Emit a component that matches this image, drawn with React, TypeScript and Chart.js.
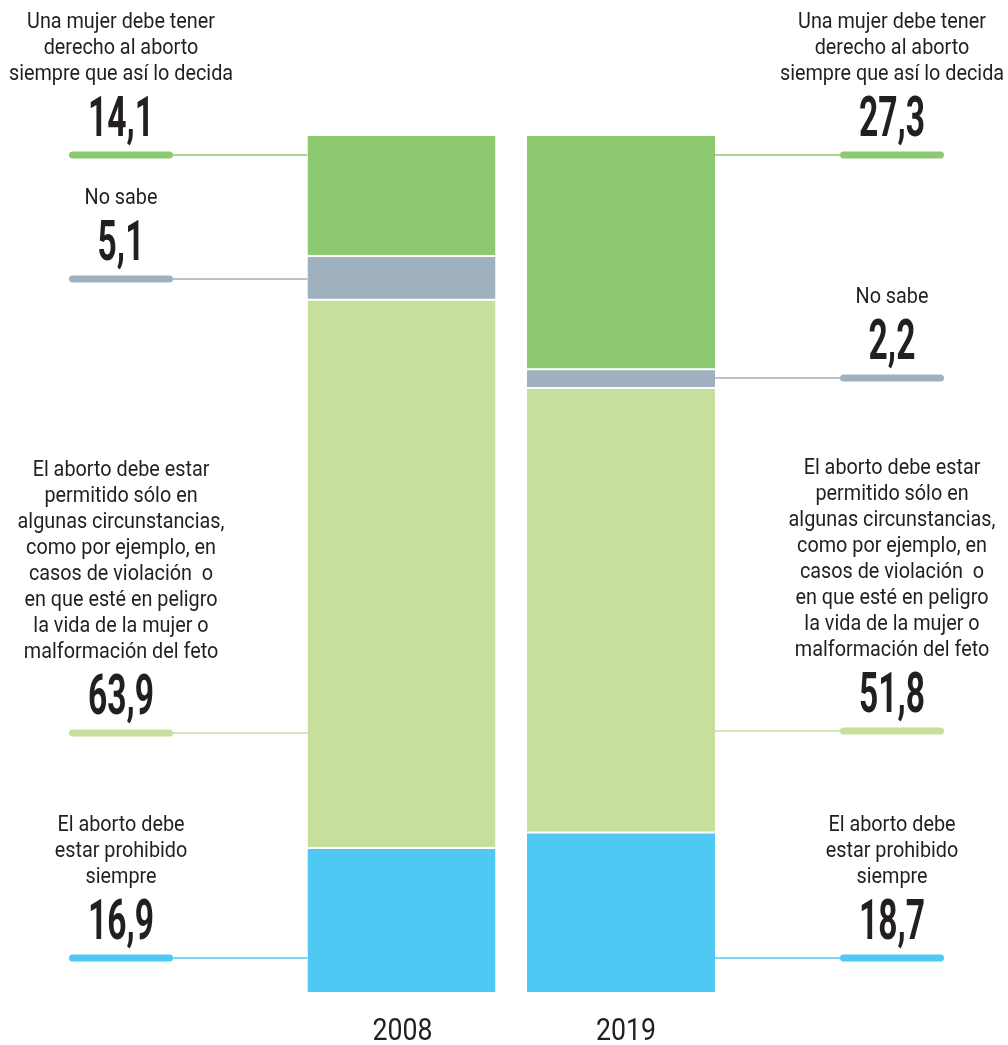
import { useEffect, useRef } from "react";
import { Chart, registerables } from "chart.js";

Chart.register(...registerables);

// ---- data ----
const years = ["2008", "2019"];
const prohibido = [16.9, 18.7];
const algunas = [63.9, 51.8];
const noSabe = [5.1, 2.2];
const derecho = [14.1, 27.3];

const prohibidoText = ["El aborto debe", "estar prohibido", "siempre"];
const algunasText = [
  "El aborto debe estar",
  "permitido sólo en",
  "algunas circunstancias,",
  "como por ejemplo, en",
  "casos de violación  o",
  "en que esté en peligro",
  "la vida de la mujer o",
  "malformación del feto",
];
const noSabeText = ["No sabe"];
const derechoText = ["Una mujer debe tener", "derecho al aborto", "siempre que así lo decida"];

// ---- style / layout ----
const colors = ["#50c8f4", "#c6df9c", "#9fb1bf", "#8cc971"];
const textColor = "#231f20";
// leader-line y positions (pixels) for each dataset, per year
const anchorY = [
  [958, 958],
  [733, 731],
  [279, 378],
  [155, 155],
];
const labelCenterX = [121, 892];

const fmt = (v: number) => v.toFixed(1).replace(".", ",");

function drawScaled(ctx: CanvasRenderingContext2D, text: string, x: number, y: number, font: string, sx: number) {
  ctx.save();
  ctx.translate(x, y);
  ctx.scale(sx, 1);
  ctx.font = font;
  ctx.textAlign = "center";
  ctx.textBaseline = "alphabetic";
  ctx.fillStyle = textColor;
  ctx.fillText(text, 0, 0);
  ctx.restore();
}

const labelPlugin = {
  id: "sideLabels",
  afterDatasetsDraw(chart: any) {
    const ctx: CanvasRenderingContext2D = chart.ctx;
    const texts = [prohibidoText, algunasText, noSabeText, derechoText];
    chart.data.datasets.forEach((ds: any, di: number) => {
      const meta = chart.getDatasetMeta(di);
      meta.data.forEach((bar: any, yi: number) => {
        const L = anchorY[di][yi];
        const cx = labelCenterX[yi];
        const half = 52;
        const color = colors[di];
        const barLeft = bar.x - bar.width / 2;
        const barRight = bar.x + bar.width / 2;
        // thin connector
        ctx.save();
        ctx.strokeStyle = color;
        ctx.lineWidth = 1.5;
        ctx.beginPath();
        if (yi === 0) {
          ctx.moveTo(cx + half, L);
          ctx.lineTo(barLeft, L);
        } else {
          ctx.moveTo(barRight, L);
          ctx.lineTo(cx - half, L);
        }
        ctx.stroke();
        // thick rounded bar
        ctx.lineWidth = 7;
        ctx.lineCap = "round";
        ctx.beginPath();
        ctx.moveTo(cx - half + 3.5, L);
        ctx.lineTo(cx + half - 3.5, L);
        ctx.stroke();
        ctx.restore();
        // value
        drawScaled(ctx, fmt(ds.data[yi]), cx, L - 19, "bold 56px Roboto", 0.6);
        // text lines
        const lines = texts[di];
        const n = lines.length;
        lines.forEach((t, k) => {
          const y = L - 75 - (n - 1 - k) * 26;
          drawScaled(ctx, t, cx, y, "22px Roboto", 0.9);
        });
      });
      if (di === 0) {
        meta.data.forEach((bar: any, yi: number) => {
          drawScaled(ctx, years[yi], bar.x + (yi === 1 ? 5 : 1), 1040, "31px Roboto", 0.86);
        });
      }
    });
  },
};

export default function App() {
  const ref = useRef<HTMLCanvasElement>(null);
  useEffect(() => {
    if (!ref.current) return;
    const mk = (label: string, data: number[], color: string) => ({
      label,
      data,
      backgroundColor: color,
      borderColor: "#ffffff",
      borderWidth: { top: 1, bottom: 1, left: 0, right: 0 },
      borderSkipped: false,
      barPercentage: 0.8565,
      categoryPercentage: 1,
    });
    const chart = new Chart(ref.current, {
      type: "bar",
      data: {
        labels: years,
        datasets: [
          mk("El aborto debe estar prohibido siempre", prohibido, colors[0]),
          mk("Permitido sólo en algunas circunstancias", algunas, colors[1]),
          mk("No sabe", noSabe, colors[2]),
          mk("Una mujer debe tener derecho al aborto", derecho, colors[3]),
        ],
      },
      options: {
        responsive: false,
        devicePixelRatio: 1,
        animation: false,
        layout: { padding: { top: 135, bottom: 52, left: 291.75, right: 277.25 } },
        plugins: { legend: { display: false }, tooltip: { enabled: false } },
        scales: {
          x: { stacked: true, display: false },
          y: { stacked: true, display: false, min: 0, max: 100 },
        },
      },
      plugins: [labelPlugin],
    });
    return () => chart.destroy();
  }, []);
  return (
    <div style={{ position: "absolute", left: 0, top: 0, width: 1008, height: 1045, background: "#fff" }}>
      <canvas ref={ref} width={1008} height={1045} style={{ width: 1008, height: 1045, display: "block" }} />
    </div>
  );
}
